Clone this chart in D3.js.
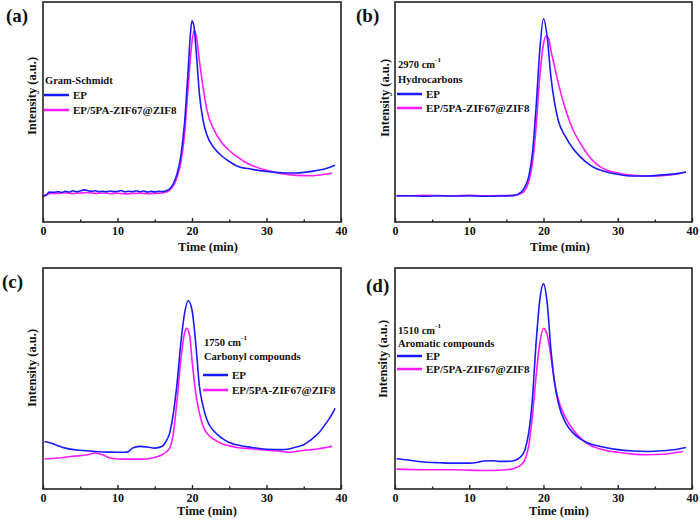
<!DOCTYPE html>
<html>
<head>
<meta charset="utf-8">
<script src="https://cdn.jsdelivr.net/npm/d3@7"></script>
<style>
  html, body { margin: 0; padding: 0; background: #fff; }
  svg { display: block; }
  text { font-family: "Liberation Serif", "Times New Roman", serif; font-weight: bold; fill: #111; }
</style>
</head>
<body>
<svg id="chart" width="700" height="520"></svg>
<script>
// ---------- DATA (time in min, intensity in a.u., 0–100 of plot height) ----------
const xTicks = [0, 10, 20, 30, 40];
const xMinorTicks = [5, 15, 25, 35];
const seriesNames = ["EP", "EP/5PA-ZIF67@ZIF8"];
const panelLetters = ["(a)", "(b)", "(c)", "(d)"];
const panelTitles = [["Gram-Schmidt"], ["2970 cm", "Hydrocarbons"], ["1750 cm", "Carbonyl compounds"], ["1510 cm", "Aromatic compounds"]];

// (a) Gram-Schmidt
const aEP = [[0,12],[0.5,12.4],[0.8,13.6],[1.5,13.5],[2,13.8],[2.5,13.4],[3,14],[3.5,13.6],[4,14.2],[4.5,13.7],[5,14.1],[5.5,14.6],[6,14.3],[6.5,13.9],[7,14.2],[7.5,13.8],[8,14],[8.5,13.7],[9,14.1],[9.5,13.8],[10,13.9],[10.5,14.3],[11,13.7],[11.5,14],[12,13.8],[12.5,14.2],[13,13.7],[13.5,14.1],[14,13.6],[14.5,13.9],[15,13.7],[15.5,13.9],[16,13.8],[16.5,14.2],[17,15],[17.5,17.5],[18,22],[18.5,30],[19,45],[19.5,70],[19.8,86],[20,91.5],[20.3,88],[20.6,76],[21,58],[21.5,46],[22,39.5],[23,33.5],[24,30],[25,27.5],[26,25.5],[28,24],[30,23],[32,22.4],[34,22.3],[36,23],[38,24.3],[39.2,25.8]];
const aPA = [[0,11.5],[0.5,12.3],[1,13],[2,13],[3,13.3],[4,12.9],[5,13.2],[6,13.4],[7,13],[8,13.2],[9,12.9],[10,13.1],[11,12.8],[12,13],[13,13.1],[14,12.9],[15,13],[16,13.2],[17,14.5],[17.5,16.5],[18,20.5],[18.5,27],[19,40],[19.5,62],[20,82],[20.3,87.3],[20.6,84],[21,73],[21.5,61],[22,51],[23,41.5],[24,36],[25,32.5],[26,29.8],[27,27.5],[28,25.8],[30,23.5],[32,22],[34,21.2],[36,21],[38,21.8],[38.8,22.3]];

// (b) 2970 cm-1 Hydrocarbons
const bEP = [[0.2,11.8],[2,11.9],[4,11.7],[6,11.9],[8,11.8],[10,11.9],[12,11.7],[14,11.8],[16,12.1],[17,13.6],[17.5,16],[18,20.5],[18.5,31],[19,52],[19.5,78],[20,92.4],[20.5,84],[21,66],[21.5,54],[22,46],[23,38.6],[24,33.3],[25,29.5],[26,26.5],[27,24.4],[28,23.2],[30,21.7],[32,20.9],[34,20.9],[36,21.4],[38,22],[39.2,22.7]];
const bPA = [[0.2,12],[2,11.9],[4,12.1],[6,12],[8,11.9],[10,12.1],[12,11.9],[14,12],[16,12],[17,13],[17.5,14.4],[18,18.2],[18.5,26.5],[19,43],[19.5,66],[20,81],[20.3,84.4],[20.7,83.3],[21,78],[21.5,70.5],[22,63],[23,50.8],[24,41.7],[25,35.6],[26,30.5],[27,26.8],[28,24.4],[30,22.3],[32,21.2],[34,20.9],[36,21.1],[38,21.8],[39.2,22.7]];

// (c) 1750 cm-1 Carbonyl compounds
const cEP = [[0.2,21.5],[1,20.8],[2,19.6],[3,18.5],[5,17.5],[7,17],[9,16.7],[11,16.6],[11.5,17],[12,18.5],[13,19.3],[14,19],[15,18.5],[16,19.3],[16.5,21.5],[17,25.3],[17.5,34.3],[18,48],[18.5,66],[19,79.5],[19.5,85.2],[20,81],[20.5,66],[21,46.4],[21.5,37.3],[22,31.3],[23,26],[24,23],[25,21],[26,20],[28,18.8],[30,18],[32,17.8],[33,18.1],[34,19],[35,20],[36,22.3],[37,25.3],[38,29.8],[39,35.1],[39.2,36.6]];
const cPA = [[0.2,13.6],[2,14],[4,14.8],[6,15.5],[7,16.3],[8,15.5],[9,14],[10,13.6],[12,13.5],[14,13.6],[15,14.3],[16,15.5],[17,18.5],[17.5,25.3],[18,40.4],[18.5,58.4],[19,70.5],[19.3,72.7],[19.7,69],[20,58.4],[20.5,43.4],[21,34.3],[21.5,28.3],[22,25.3],[23,22.3],[24,20.5],[25,19.6],[26,18.8],[28,18.2],[30,17.5],[32,17],[33,16.6],[34,17],[35,17.5],[36,17.8],[37,18.2],[38,18.8],[38.8,19.3]];

// (d) 1510 cm-1 Aromatic compounds
const dEP = [[0.2,13.7],[2,13],[4,12.2],[6,11.9],[8,11.7],[10,11.7],[11,12],[12,12.7],[13,12.8],[14,12.5],[15,12.5],[16,12.8],[17,14.8],[17.5,17.8],[18,25.3],[18.5,40.4],[19,66],[19.5,85.5],[20,92.8],[20.5,84],[21,63],[21.5,48],[22,38.9],[23,29.8],[24,25.3],[25,22.6],[26,20.8],[28,19],[30,17.8],[32,17.2],[34,17],[36,17.3],[38,18],[39.2,18.8]];
const dPA = [[0.2,9],[4,8.7],[8,8.7],[12,8.4],[14,8.5],[15,8.7],[16,9.3],[17,11],[17.5,13.3],[18,19.3],[18.5,32.8],[19,50.9],[19.5,66],[20,72.7],[20.5,69.7],[21,60],[21.5,47.9],[22,40.4],[23,32.1],[24,26.8],[25,23],[26,20.3],[28,17.8],[30,16.6],[32,15.8],[34,15.5],[36,15.7],[38,16.6],[38.8,17]];

const panelSeries = [[aEP, aPA], [bEP, bPA], [cEP, cPA], [dEP, dPA]];
const colors = ["#1a1aff", "#ff1aff"];

// ---------- LAYOUT ----------
const layout = [
  { l: 43, r: 341, t: 2, b: 222, lab: [6, 22], ytc: [32, 96], xtc: [208, 251], tickY: 235,
    legX: 44, titleY: [80], legY: [95, 110] },
  { l: 395, r: 692, t: 2, b: 222, lab: [356, 22], ytc: [385, 98], xtc: [560, 251], tickY: 235,
    legX: 397, titleY: [64, 79], legY: [94, 108] },
  { l: 43, r: 341, t: 268, b: 489, lab: [2, 288], ytc: [32, 368], xtc: [207, 515], tickY: 502,
    legX: 203, titleY: [342, 356], legY: [375, 390] },
  { l: 395, r: 692, t: 268, b: 489, lab: [366, 292], ytc: [383, 359], xtc: [559, 515], tickY: 502,
    legX: 397, titleY: [330, 343], legY: [356, 369] }
];

const svg = d3.select("#chart");

layout.forEach((L, i) => {
  const g = svg.append("g");
  const x = d3.scaleLinear().domain([0, 40]).range([L.l, L.r]);
  const y = d3.scaleLinear().domain([0, 100]).range([L.b, L.t]);

  const clipId = "clip" + i;
  svg.append("clipPath").attr("id", clipId).append("rect")
    .attr("x", L.l).attr("y", L.t).attr("width", L.r - L.l).attr("height", L.b - L.t);

  const line = d3.line().x(d => x(d[0])).y(d => y(d[1])).curve(d3.curveMonotoneX);
  [1, 0].forEach(k => {
    g.append("path")
      .datum(panelSeries[i][k])
      .attr("clip-path", `url(#${clipId})`)
      .attr("d", line)
      .attr("fill", "none")
      .attr("stroke", colors[k])
      .attr("stroke-width", 1.6)
      .attr("stroke-linejoin", "round");
  });

  g.append("rect")
    .attr("x", L.l).attr("y", L.t).attr("width", L.r - L.l).attr("height", L.b - L.t)
    .attr("fill", "none").attr("stroke", "#222").attr("stroke-width", 1.6);

  const axis = d3.axisBottom(x).tickValues(xTicks).tickSizeInner(-4).tickSizeOuter(0).tickFormat(d3.format("d"));
  const ax = g.append("g").attr("transform", `translate(0,${L.b})`).call(axis);
  ax.select(".domain").remove();
  ax.selectAll(".tick line").attr("stroke", "#222").attr("stroke-width", 1.4);
  ax.selectAll(".tick text").attr("y", L.tickY - L.b).attr("dy", 0)
    .style("font-family", "'Liberation Serif', serif").style("font-weight", "bold")
    .style("font-size", "12px").attr("fill", "#111");
  const minor = d3.axisBottom(x).tickValues(xMinorTicks).tickSizeInner(-2.5).tickSizeOuter(0).tickFormat("");
  const mx = g.append("g").attr("transform", `translate(0,${L.b})`).call(minor);
  mx.select(".domain").remove();
  mx.selectAll(".tick line").attr("stroke", "#222").attr("stroke-width", 1.4);

  g.append("text").attr("x", L.xtc[0]).attr("y", L.xtc[1]).attr("text-anchor", "middle")
    .style("font-size", "12.5px").text("Time (min)");
  g.append("text").attr("transform", `translate(${L.ytc[0]},${L.ytc[1]}) rotate(-90)`)
    .attr("text-anchor", "middle").attr("dominant-baseline", "central")
    .style("font-size", "12.5px").text("Intensity (a.u.)");

  g.append("text").attr("x", L.lab[0]).attr("y", L.lab[1]).style("font-size", "19px").text(panelLetters[i]);

  const titles = panelTitles[i];
  titles.forEach((tt, j) => {
    const t = g.append("text").attr("x", L.legX + 1).attr("y", L.titleY[j]).attr("dominant-baseline", "central")
      .style("font-size", "10.5px");
    if (i > 0 && j === 0) {
      t.append("tspan").text(tt);
      t.append("tspan").attr("dy", -4).style("font-size", "7px").text("-1");
    } else {
      t.text(tt);
    }
  });

  seriesNames.forEach((nm, k) => {
    const yy = L.legY[k];
    g.append("line").attr("x1", L.legX).attr("x2", L.legX + 25).attr("y1", yy).attr("y2", yy)
      .attr("stroke", colors[k]).attr("stroke-width", 2.5);
    g.append("text").attr("x", L.legX + 29).attr("y", yy).attr("dominant-baseline", "central")
      .style("font-size", "11px").text(nm);
  });
});
</script>
</body>
</html>
